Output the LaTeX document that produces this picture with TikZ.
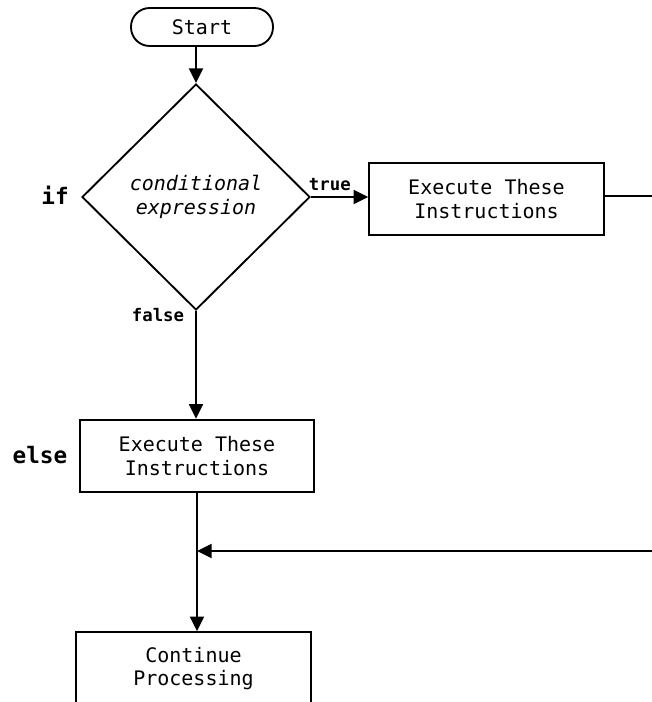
\documentclass[tikz,border=0pt]{standalone}
\usepackage{fontspec}
\setmonofont{DejaVu Sans Mono}
\usetikzlibrary{shapes.geometric, arrows.meta}

\begin{document}
\begin{tikzpicture}[x=0.75pt, y=-0.75pt, line width=1.4pt,
    font=\ttfamily\fontsize{15}{17.5}\selectfont,
    box/.style={draw, minimum width=176pt, minimum height=54.5pt, align=center, inner sep=0pt},
    term/.style={draw, rounded corners=14pt, minimum width=106.5pt, minimum height=28.5pt, inner sep=0pt},
    decision/.style={draw, diamond, minimum width=171pt, minimum height=169.5pt, inner sep=0pt, align=center,
                     font=\ttfamily\itshape\fontsize{15}{17.5}\selectfont},
    kw/.style={font=\ttfamily\bfseries\fontsize{13}{15}\selectfont},
    bigkw/.style={font=\ttfamily\bfseries\fontsize{17}{20}\selectfont},
    arr/.style={-{Triangle[length=11pt, width=10.5pt]}}]
  \useasboundingbox (0,0) rectangle (652,702);
  \clip (0,0) rectangle (652,702);

  % nodes
  \node[term] (start) at (202,27) {Start};
  \node[decision] (cond) at (196,197) {conditional\\expression};
  \node[box] (yes) at (486.5,199) {Execute These\\Instructions};
  \node[box] (no) at (197,456) {Execute These\\Instructions};
  \node[box] (done) at (193.5,668.5) {Continue\\Processing};

  \node[bigkw] (lif) at (55,195) {if};
  \node[bigkw] (lelse) at (40,455) {else};
  \node[kw] (lfalse) at (158,315) {false};

  \coordinate (outR) at (652,196);
  \coordinate (back) at (652,551);

  % connectors
  \draw[arr] (cond.north |- start.south) -- (cond.north);
  \draw[arr] (cond.east) -- (cond.east -| yes.west)
        node[pos=0.33, above, kw, inner sep=4pt] (ltrue) {true};
  \draw (yes.east |- outR) -- (outR);
  \draw[arr] (cond.south) -- (cond.south |- no.north);
  \draw[arr] (no.south) -- (no.south |- done.north);
  \draw[arr] (back) -- (back -| no.south);
\end{tikzpicture}
\end{document}
